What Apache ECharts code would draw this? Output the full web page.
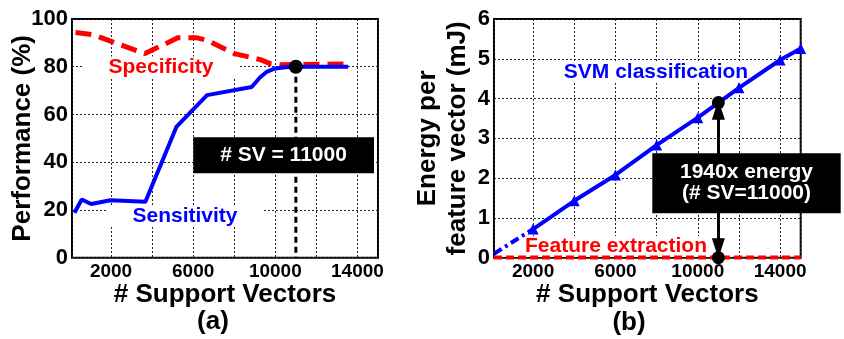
<!DOCTYPE html>
<html><head><meta charset="utf-8">
<script src="https://cdn.jsdelivr.net/npm/echarts@6/dist/echarts.min.js"></script>
<style>html,body{margin:0;padding:0;background:#fff}#c{width:844px;height:339px}</style>
</head><body><div id="c"></div>
<script>
// ---- data ----
const sensX = [219, 574, 1032, 1971, 3674, 5182, 6676, 8850, 9250, 9600, 10000, 10500, 11000, 13550];
const sensY = [18.8, 24.4, 22.5, 24.1, 23.4, 54.8, 68.1, 71.5, 75.5, 78, 79.3, 79.8, 80, 80];
const specX = [268, 1080, 3650, 5250, 6200, 6700, 8000, 9270, 9750, 10250, 11000, 13550];
const specY = [94.3, 93.5, 85.5, 92.1, 92.1, 91.0, 85.5, 83.0, 81.3, 80.8, 80.9, 81.2];
const svmStartX = [100, 2000];
const svmStartY = [0.1, 0.72];
const svmX = [2000, 4000, 6000, 8000, 10000, 12000, 14000, 15000];
const svmY = [0.72, 1.43, 2.08, 2.83, 3.52, 4.27, 4.97, 5.26];
const featX = [100, 15000];
const featY = [0.002, 0.002];
const pickX = [11000];
const pickPerf = [80];
const pickEnergy = [3.9];
const xTickLabels = ['2000', '6000', '10000', '14000'];
const xMin = 100, xMax = 15000, xStep = 2000;

const zip = (xs, ys) => xs.map((x, i) => [x, ys[i]]);
const FF = '"Liberation Sans", Arial, Helvetica, sans-serif';

function xAxis(gi) {
  return {
    type: 'value', gridIndex: gi, min: xMin, max: xMax, minInterval: xStep, maxInterval: xStep,
    axisLine: {show: false}, axisTick: {show: false},
    splitLine: {show: true, lineStyle: {color: '#222', width: 1, type: [2, 2]}},
    axisLabel: {fontFamily: FF, fontWeight: 'bold', fontSize: 19, color: '#000', margin: 5,
      showMinLabel: false, showMaxLabel: false,
      formatter: v => xTickLabels.includes(String(v)) ? String(v) : ''},
    name: '# Support Vectors', nameLocation: 'middle', nameGap: 24, nameMoveOverlap: false,
    nameTextStyle: {fontFamily: FF, fontWeight: 'bold', fontSize: 26, color: '#000'}
  };
}
function yAxis(gi, max, interval, name, gap, lh) {
  return {
    type: 'value', gridIndex: gi, min: 0, max: max, interval: interval,
    axisLine: {show: false}, axisTick: {show: false},
    splitLine: {show: true, lineStyle: {color: '#222', width: 1, type: [2, 2]}},
    axisLabel: {fontFamily: FF, fontWeight: 'bold', fontSize: 22, color: '#000', margin: 4},
    name: name, nameLocation: 'middle', nameGap: gap, nameMoveOverlap: false,
    nameTextStyle: {fontFamily: FF, fontWeight: 'bold', fontSize: 26, color: '#000', lineHeight: lh}
  };
}
function label(text, cx, cy, color, bw) {
  return [
    {type: 'rect', z: 1, shape: {x: cx - bw / 2, y: cy - 10.5, width: bw, height: 21}, style: {fill: '#fff'}},
    {type: 'text', z: 1, x: cx, y: cy, style: {text: text, fill: color, font: 'bold 21px ' + FF,
      textAlign: 'center', textVerticalAlign: 'middle', align: 'center', verticalAlign: 'middle'}}
  ];
}

const chart = echarts.init(document.getElementById('c'), null, {renderer: 'canvas'});
chart.setOption({
  animation: false,
  backgroundColor: '#fff',
  grid: [
    {left: 72, top: 19, width: 306, height: 238.7, show: true, borderColor: '#000', borderWidth: 2, backgroundColor: 'transparent'},
    {left: 494, top: 19, width: 306.7, height: 238.7, show: true, borderColor: '#000', borderWidth: 2, backgroundColor: 'transparent'}
  ],
  xAxis: [xAxis(0), xAxis(1)],
  yAxis: [
    yAxis(0, 100, 20, 'Performance (%)', 34, 30),
    yAxis(1, 6, 1, 'Energy per\nfeature vector (mJ)', 21, 30)
  ],
  series: [
    {type: 'line', xAxisIndex: 0, yAxisIndex: 0, data: zip(specX, specY), showSymbol: false, z: 3,
      lineStyle: {color: '#ff0000', width: 5, type: [16, 8]}},
    {type: 'line', xAxisIndex: 0, yAxisIndex: 0, data: zip(sensX, sensY), showSymbol: false, z: 3,
      lineStyle: {color: '#0000ff', width: 4}},
    {type: 'line', xAxisIndex: 0, yAxisIndex: 0, data: [[pickX[0], pickPerf[0]], [pickX[0], 0]], showSymbol: false, z: 3,
      lineStyle: {color: '#000', width: 3, type: [6, 4]}},
    {type: 'scatter', xAxisIndex: 0, yAxisIndex: 0, data: zip(pickX, pickPerf), symbolSize: 14, z: 10,
      itemStyle: {color: '#000', opacity: 1}},

    {type: 'line', xAxisIndex: 1, yAxisIndex: 1, data: zip(featX, featY), showSymbol: false, z: 3, clip: false,
      lineStyle: {color: '#ff0000', width: 4, type: [8, 4]}},
    {type: 'line', xAxisIndex: 1, yAxisIndex: 1, data: zip(svmStartX, svmStartY), showSymbol: false, z: 3, clip: false,
      lineStyle: {color: '#0000ff', width: 4, type: [9, 4, 3, 4]}},
    {type: 'line', xAxisIndex: 1, yAxisIndex: 1, data: zip(svmX, svmY), symbol: 'triangle', symbolSize: 11, showSymbol: true, z: 3, clip: false,
      itemStyle: {color: '#0000ff', opacity: 1}, lineStyle: {color: '#0000ff', width: 4}},
    {type: 'line', xAxisIndex: 1, yAxisIndex: 1, data: [], z: 3,
      markLine: {silent: true, animation: false, symbol: ['triangle', 'triangle'], symbolSize: [13, 20],
        label: {show: false}, lineStyle: {color: '#000', width: 3, type: 'solid', opacity: 1},
        data: [[{coord: [pickX[0], pickEnergy[0] - 0.18]}, {coord: [pickX[0], 0.24]}]]}},
    {type: 'scatter', xAxisIndex: 1, yAxisIndex: 1, data: [[pickX[0], pickEnergy[0]], [pickX[0], 0]], symbolSize: 13, z: 10, clip: false,
      itemStyle: {color: '#000', opacity: 1}}
  ],
  graphic: [
    ...label('Specificity', 161, 67, '#ff0000', 158),
    ...label('Sensitivity', 185, 216, '#0000ff', 158),
    ...label('SVM classification', 656, 72.5, '#0000ff', 234),
    ...label('Feature extraction', 616, 246.5, '#ff0000', 232),
    {type: 'rect', z: 5, shape: {x: 193.3, y: 137.3, width: 180.7, height: 36}, style: {fill: '#000'}},
    {type: 'text', z: 6, x: 283.5, y: 155.5, style: {text: '# SV = 11000', fill: '#fff', font: 'bold 21px ' + FF,
      textAlign: 'center', textVerticalAlign: 'middle', align: 'center', verticalAlign: 'middle'}},
    {type: 'rect', z: 5, shape: {x: 652.3, y: 153.3, width: 188.4, height: 60}, style: {fill: '#000'}},
    {type: 'text', z: 6, x: 746.5, y: 182.5, style: {text: '1940x energy\n(# SV=11000)', fill: '#fff', font: 'bold 21px ' + FF,
      lineHeight: 21, textAlign: 'center', textVerticalAlign: 'middle', align: 'center', verticalAlign: 'middle'}},
    {type: 'text', z: 6, x: 213, y: 322, style: {text: '(a)', fill: '#000', font: 'bold 26px ' + FF,
      textAlign: 'center', textVerticalAlign: 'middle', align: 'center', verticalAlign: 'middle'}},
    {type: 'text', z: 6, x: 629, y: 323, style: {text: '(b)', fill: '#000', font: 'bold 26px ' + FF,
      textAlign: 'center', textVerticalAlign: 'middle', align: 'center', verticalAlign: 'middle'}}
  ]
});
</script></body></html>
